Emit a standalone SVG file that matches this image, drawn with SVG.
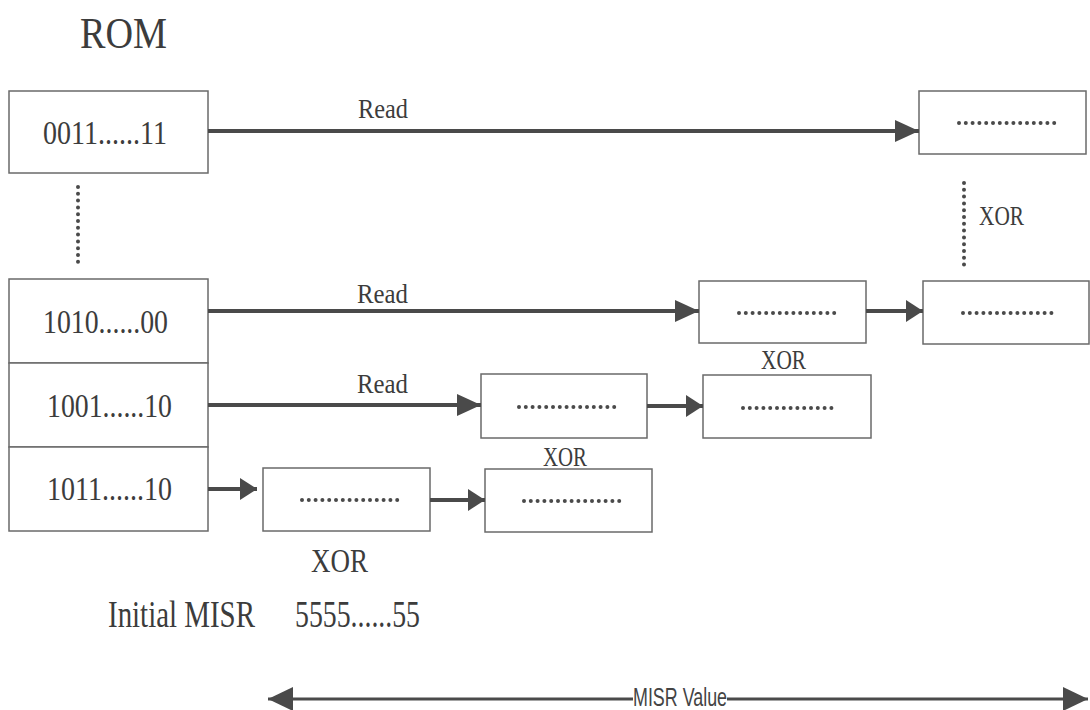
<svg xmlns="http://www.w3.org/2000/svg" width="1090" height="710" viewBox="0 0 1090 710">
<style>
  .box { fill: #ffffff; stroke: #6a6a6a; stroke-width: 1.5; }
  .t { font-family: "Liberation Serif", "DejaVu Serif", serif; fill: #3c3c3c; }
  .val { font-size: 34px; }
  .lbl { font-size: 27px; }
  .dots { stroke: #4a4a4a; stroke-width: 4; stroke-linecap: round; stroke-dasharray: 0 6.8; fill: none; }
  .arr { stroke: #4a4a4a; stroke-width: 4; fill: none; }
  .arrthin { stroke: #4a4a4a; stroke-width: 3; fill: none; }
  .sans { font-family: "Liberation Sans", Arial, sans-serif; fill: #444444; font-size: 25px; }
</style>
<defs>
  <marker id="big" markerUnits="userSpaceOnUse" markerWidth="24" markerHeight="22" refX="24" refY="11" orient="auto">
    <path d="M0,0 L24,11 L0,22 Z" fill="#4a4a4a"/>
  </marker>
  <marker id="small" markerUnits="userSpaceOnUse" markerWidth="17" markerHeight="22" refX="17" refY="11" orient="auto">
    <path d="M0,0 L17,11 L0,22 Z" fill="#4a4a4a"/>
  </marker>
  <marker id="misr" markerUnits="userSpaceOnUse" markerWidth="25" markerHeight="24" refX="25" refY="12" orient="auto">
    <path d="M0,0 L25,12 L0,24 Z" fill="#4a4a4a"/>
  </marker>
</defs>
<rect width="1090" height="710" fill="#ffffff"/>

<text class="t" x="80" y="48" font-size="45" textLength="87" lengthAdjust="spacingAndGlyphs">ROM</text>

<g id="rom-top">
  <rect class="box" x="9" y="91" width="199" height="82"/>
  <text class="t val" x="43" y="144" textLength="124" lengthAdjust="spacingAndGlyphs">0011......11</text>
</g>
<g id="rom-ellipsis">
  <line class="dots" x1="78" y1="187" x2="78" y2="267"/>
</g>
<g id="rom-row1">
  <rect class="box" x="9" y="279" width="199" height="84"/>
  <text class="t val" x="43" y="333" textLength="125" lengthAdjust="spacingAndGlyphs">1010......00</text>
</g>
<g id="rom-row2">
  <rect class="box" x="9" y="363" width="199" height="84"/>
  <text class="t val" x="47" y="417" textLength="125" lengthAdjust="spacingAndGlyphs">1001......10</text>
</g>
<g id="rom-row3">
  <rect class="box" x="9" y="447" width="199" height="84"/>
  <text class="t val" x="47" y="500" textLength="125" lengthAdjust="spacingAndGlyphs">1011......10</text>
</g>

<g id="misr-top">
  <rect class="box" x="919" y="91" width="167" height="63"/>
  <line class="dots" x1="959" y1="123" x2="1055" y2="123"/>
</g>
<g id="xor-vertical">
  <line class="dots" x1="964" y1="183" x2="964" y2="265"/>
  <text class="t lbl" x="979" y="225" textLength="45" lengthAdjust="spacingAndGlyphs">XOR</text>
</g>

<g id="misr-r1a">
  <rect class="box" x="699" y="281" width="167" height="62"/>
  <line class="dots" x1="739" y1="313" x2="835" y2="313"/>
  <text class="t lbl" x="761" y="369" textLength="45" lengthAdjust="spacingAndGlyphs">XOR</text>
</g>
<g id="misr-r1b">
  <rect class="box" x="923" y="281" width="166" height="63"/>
  <line class="dots" x1="963" y1="313" x2="1058" y2="313"/>
</g>

<g id="misr-r2a">
  <rect class="box" x="481" y="374" width="166" height="64"/>
  <line class="dots" x1="519" y1="407" x2="616" y2="407"/>
  <text class="t lbl" x="543" y="466" textLength="44" lengthAdjust="spacingAndGlyphs">XOR</text>
</g>
<g id="misr-r2b">
  <rect class="box" x="703" y="375" width="168" height="63"/>
  <line class="dots" x1="743" y1="408" x2="838" y2="408"/>
</g>

<g id="misr-r3a">
  <rect class="box" x="263" y="468" width="167" height="63"/>
  <line class="dots" x1="302" y1="500" x2="398" y2="500"/>
  <text class="t" x="311" y="572" font-size="33" textLength="57" lengthAdjust="spacingAndGlyphs">XOR</text>
</g>
<g id="misr-r3b">
  <rect class="box" x="485" y="469" width="167" height="63"/>
  <line class="dots" x1="524" y1="501" x2="620" y2="501"/>
</g>

<g id="initial">
  <text class="t" x="108" y="627" font-size="38" textLength="147" lengthAdjust="spacingAndGlyphs">Initial MISR</text>
  <text class="t" x="295" y="627" font-size="38" textLength="125" lengthAdjust="spacingAndGlyphs">5555......55</text>
</g>

<g id="connectors">
  <line class="arr" x1="208" y1="131" x2="919" y2="131" marker-end="url(#big)"/>
  <text class="t lbl" x="358" y="118" textLength="50" lengthAdjust="spacingAndGlyphs">Read</text>

  <line class="arr" x1="208" y1="311" x2="699" y2="311" marker-end="url(#big)"/>
  <text class="t lbl" x="357" y="303" textLength="51" lengthAdjust="spacingAndGlyphs">Read</text>
  <line class="arr" x1="866" y1="311" x2="923" y2="311" marker-end="url(#small)"/>

  <line class="arr" x1="208" y1="405" x2="481" y2="405" marker-end="url(#big)"/>
  <text class="t lbl" x="357" y="393" textLength="51" lengthAdjust="spacingAndGlyphs">Read</text>
  <line class="arr" x1="647" y1="406" x2="703" y2="406" marker-end="url(#small)"/>

  <line class="arr" x1="208" y1="489" x2="257" y2="489" marker-end="url(#small)"/>
  <line class="arr" x1="430" y1="500" x2="485" y2="500" marker-end="url(#small)"/>

  <line class="arrthin" x1="633" y1="699" x2="268" y2="699" marker-end="url(#misr)"/>
  <line class="arrthin" x1="727" y1="699" x2="1088" y2="699" marker-end="url(#misr)"/>
  <text class="sans" x="633" y="706" textLength="94" lengthAdjust="spacingAndGlyphs">MISR Value</text>
</g>
</svg>
